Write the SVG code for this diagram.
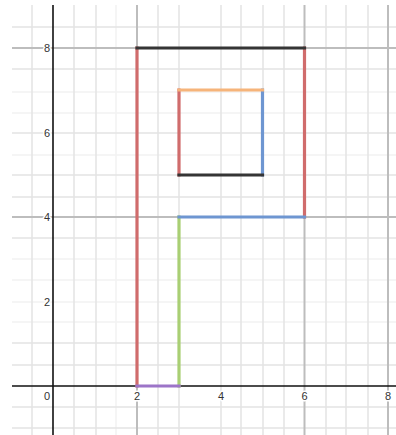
<svg xmlns="http://www.w3.org/2000/svg" width="396" height="435" viewBox="0 0 396 435">
<style>
.dk{stroke:#bdbdbd;stroke-width:2;fill:none}
.md{stroke:#e3e3e3;stroke-width:1.5;fill:none}
.ft{stroke:#f2f2f2;stroke-width:1.5;fill:none}
.ax{stroke:#111;stroke-width:1.6;fill:none}
.lb{font-family:"Liberation Sans",Arial,sans-serif;font-size:11px;fill:#333;stroke:#fff;stroke-width:3;paint-order:stroke;stroke-linejoin:round}
.seg{fill:none;stroke-width:3.2;stroke-linecap:square}
</style>
<rect width="396" height="435" fill="#fff"/>
<g id="grid">
<g class="ft">
<path d="M116,5V435"/>
<path d="M12,92H396M12,113H396M12,155H396M12,259H396M12,280H396M12,302H396M12,322H396"/>
</g>
<g class="md">
<path d="M32,5V435M74,5V435M96,5V435M158,5V435M179,5V435M221,5V435M241,5V435M263,5V435M284,5V435M326,5V435M346,5V435M368,5V435"/>
<path d="M12,27H396M12,69H396M12,133H396M12,175H396M12,197H396M12,238H396M12,343H396M12,365H396M12,407H396M12,428H396"/>
</g>
<g class="dk">
<path d="M137,5V435M304.5,5V435M388,5V435"/>
<path d="M12,48H396M12,217H396"/>
</g>
</g>
<g id="axes" class="ax">
<path d="M53,5V435"/>
<path d="M12,386H396"/>
</g>
<g id="labels" class="lb">
<text x="50" y="52" text-anchor="end">8</text>
<text x="50" y="137" text-anchor="end">6</text>
<text x="50" y="221" text-anchor="end">4</text>
<text x="50" y="306" text-anchor="end">2</text>
<text x="50" y="400" text-anchor="end">0</text>
<text x="137" y="400" text-anchor="middle">2</text>
<text x="221" y="400" text-anchor="middle">4</text>
<text x="304.5" y="400" text-anchor="middle">6</text>
<text x="388" y="400" text-anchor="middle">8</text>
</g>
<g id="letter">
<path id="red" class="seg" stroke="#d06c6c" d="M137,386V48M304.5,48V217M179,175V90"/>
<path id="green" class="seg" stroke="#a9cf74" d="M179,386V217"/>
<path id="purple" class="seg" stroke="#9c74c8" d="M137,386H179"/>
<path id="blue" class="seg" stroke="#6e96d1" d="M179,217H304.5M262.5,90V175"/>
<path id="orange" class="seg" stroke="#f6b47a" d="M179,90H262.5"/>
<path id="black" class="seg" stroke="#353535" d="M137,48H304.5M179,175H262.5"/>
</g>
</svg>
